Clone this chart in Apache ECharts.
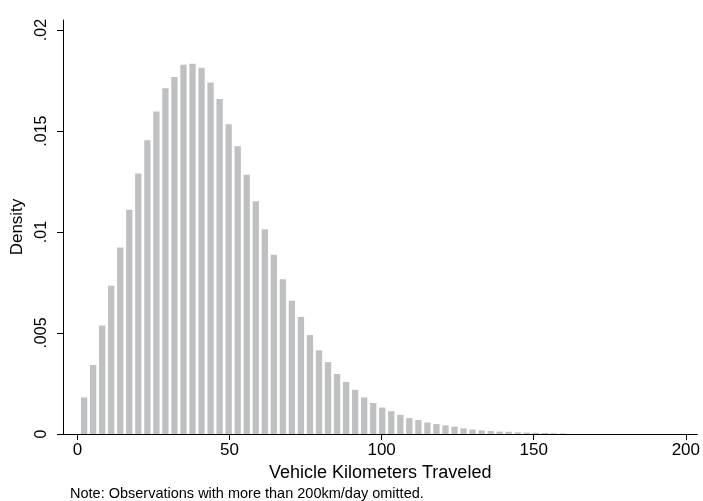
<!DOCTYPE html>
<html>
<head>
<meta charset="utf-8">
<script src="https://cdn.jsdelivr.net/npm/echarts@6/dist/echarts.min.js"></script>
<style>html,body{margin:0;padding:0;background:#fff}#c{width:703px;height:501px}</style>
</head>
<body>
<div id="c"></div>
<script>
// Histogram bins (km): first bin start and common width
const binStart = 0.705;
const binWidth = 2.97;
// Density of each bin
const density = [
  0.00181, 0.00341, 0.00537, 0.00734, 0.00923, 0.0111, 0.0129, 0.01454, 0.01597, 0.01712,
  0.01768, 0.01828, 0.01833, 0.01814, 0.0174, 0.01659, 0.01534, 0.01425, 0.01284, 0.01152,
  0.01014, 0.00887, 0.00766, 0.0066, 0.0058, 0.0049, 0.00414, 0.00356, 0.00297, 0.00258,
  0.00219, 0.00181, 0.00154, 0.00131, 0.00113, 0.00095, 0.00079, 0.00069, 0.00057, 0.00049,
  0.00043, 0.00036, 0.00028, 0.00022, 0.00018, 0.00015, 0.00012, 0.00011, 0.00008, 0.00007,
  0.00006, 0.00005, 0.00004, 0.00003
];
const xTicks = [0, 50, 100, 150, 200];
const yTicks = [0, 0.005, 0.01, 0.015, 0.02];
const yTickLabels = ['0', '.005', '.01', '.015', '.02'];
const xTitle = 'Vehicle Kilometers Traveled';
const yTitle = 'Density';
const note = 'Note: Observations with more than 200km/day omitted.';

const binData = density.map((d, i) => [binStart + i * binWidth, binStart + (i + 1) * binWidth, d]);
const FONT = '"Liberation Sans", Arial, Helvetica, sans-serif';

const chart = echarts.init(document.getElementById('c'), null, {renderer: 'canvas'});
chart.setOption({
  animation: false,
  backgroundColor: '#ffffff',
  title: {
    text: note, left: 65, top: 481,
    textStyle: {fontFamily: FONT, fontSize: 14.5, fontWeight: 'normal', color: '#000'}
  },
  grid: {left: 63, right: 3, top: 20, bottom: 67, containLabel: false},
  xAxis: {
    type: 'value', min: -4.75, max: 203.8,
    name: xTitle, nameLocation: 'middle', nameGap: 26,
    nameTextStyle: {fontFamily: FONT, fontSize: 18, color: '#000'},
    axisLine: {show: true, onZero: false, lineStyle: {color: '#000', width: 1}},
    axisTick: {show: true, length: 6, customValues: xTicks, lineStyle: {color: '#000'}},
    axisLabel: {customValues: xTicks, fontFamily: FONT, fontSize: 17, color: '#000', margin: 8},
    splitLine: {show: false}
  },
  yAxis: {
    type: 'value', min: 0, max: 0.0205,
    name: yTitle, nameLocation: 'middle', nameGap: 32, nameRotate: 90,
    nameTextStyle: {fontFamily: FONT, fontSize: 17, color: '#000'},
    axisLine: {show: true, onZero: false, lineStyle: {color: '#000', width: 1}},
    axisTick: {show: true, length: 6, customValues: yTicks, lineStyle: {color: '#000'}},
    axisLabel: {
      customValues: yTicks, rotate: 90, align: 'center', verticalAlign: 'bottom',
      fontFamily: FONT, fontSize: 16, color: '#000', margin: 13,
      formatter: v => {
        const k = yTicks.findIndex(t => Math.abs(t - v) < 1e-9);
        return k >= 0 ? yTickLabels[k] : '';
      }
    },
    splitLine: {show: false}
  },
  series: [{
    type: 'custom',
    data: binData,
    encode: {x: [0, 1], y: 2},
    renderItem: function (params, api) {
      const x0 = api.value(0), x1 = api.value(1), v = api.value(2);
      const p0 = api.coord([x0, 0]);
      const p1 = api.coord([x1, v]);
      const w = p1[0] - p0[0];
      const bw = w * 0.7;
      return {
        type: 'rect',
        shape: {x: p0[0] + (w - bw) / 2, y: p1[1], width: bw, height: p0[1] - p1[1]},
        style: {fill: '#bfc0c2'}
      };
    }
  }]
});
</script>
</body>
</html>
